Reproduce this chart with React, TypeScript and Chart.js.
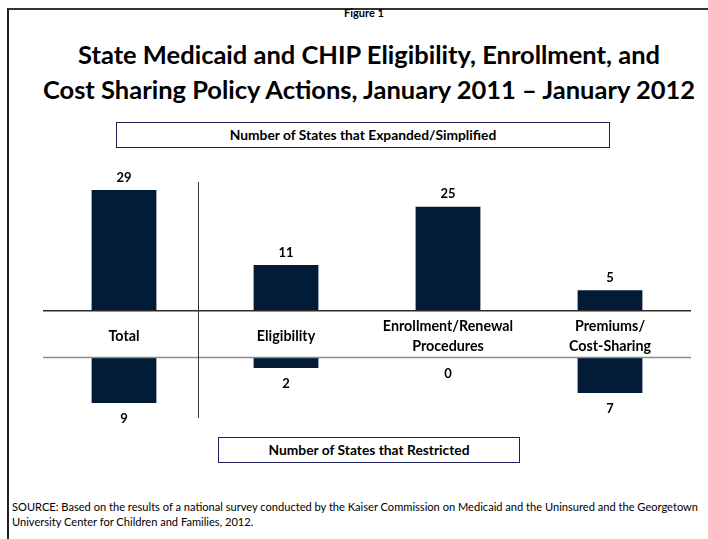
import React, { useEffect, useRef } from "react";
import { Chart, registerables } from "chart.js";

Chart.register(...registerables);

// ---- Data ----
const categories: string[][] = [
  ["Total"],
  ["Eligibility"],
  ["Enrollment/Renewal", "Procedures"],
  ["Premiums/", "Cost-Sharing"],
];
const expandedValues = [29, 11, 25, 5];
const restrictedValues = [9, 2, 0, 7];
const expandedAxisMax = 35;
const restrictedAxisMax = 14;

const titleLines = [
  "State Medicaid and CHIP Eligibility, Enrollment, and",
  "Cost Sharing Policy Actions, January 2011 \u2013 January 2012",
];
const figureLabel = "Figure 1";
const expandedBoxText = "Number of States that Expanded/Simplified";
const restrictedBoxText = "Number of States that Restricted";
const sourceLines = [
  "SOURCE: Based on the results of a national survey conducted by the Kaiser Commission on Medicaid and the Uninsured and the Georgetown",
  "University Center for Children and Families, 2012.",
];

const BAR_COLOR = "#021c37";
const FONT = "Lato, 'Open Sans', 'DejaVu Sans', sans-serif";

function dividerX(chart: any) {
  const x = chart.scales.x;
  const a = x.getPixelForValue(0);
  const b = x.getPixelForValue(1);
  return Math.round(a + 0.455 * (b - a)) + 0.5;
}

const topPlugin = {
  id: "topDecor",
  afterDatasetsDraw(chart: any) {
    const { ctx, chartArea, scales } = chart;
    const x = scales.x;
    const y = scales.y;
    const meta = chart.getDatasetMeta(0);
    const y0 = y.getPixelForValue(0);
    ctx.save();
    // baseline
    ctx.strokeStyle = "#2b2b2b";
    ctx.lineWidth = 1.5;
    ctx.beginPath();
    ctx.moveTo(chartArea.left, y0 - 0.25);
    ctx.lineTo(chartArea.right, y0 - 0.25);
    ctx.stroke();
    // divider
    const xd = dividerX(chart);
    ctx.lineWidth = 1;
    ctx.strokeStyle = "#333";
    ctx.beginPath();
    ctx.moveTo(xd, chartArea.top + 17);
    ctx.lineTo(xd, chart.height);
    ctx.stroke();
    // value labels
    ctx.fillStyle = "#000";
    ctx.textAlign = "center";
    ctx.textBaseline = "middle";
    ctx.font = `bold 13px ${FONT}`;
    meta.data.forEach((el: any, i: number) => {
      ctx.fillText(String(expandedValues[i]), el.x, el.y - 12.5);
    });
    // category labels
    ctx.font = `bold 14.3px ${FONT}`;
    categories.forEach((lines, i) => {
      const cx = x.getPixelForValue(i);
      const cy = y0 + 25.5;
      lines.forEach((t, j) => {
        ctx.fillText(t, cx, cy + (j - (lines.length - 1) / 2) * 19.5);
      });
    });
    ctx.restore();
  },
};

const bottomPlugin = {
  id: "bottomDecor",
  afterDatasetsDraw(chart: any) {
    const { ctx, chartArea, scales } = chart;
    const y = scales.y;
    const meta = chart.getDatasetMeta(0);
    const y0 = y.getPixelForValue(0);
    ctx.save();
    ctx.strokeStyle = "#8c8c8c";
    ctx.lineWidth = 1.5;
    ctx.beginPath();
    ctx.moveTo(chartArea.left, y0 - 0.5);
    ctx.lineTo(chartArea.right, y0 - 0.5);
    ctx.stroke();
    const xd = dividerX(chart);
    ctx.lineWidth = 1;
    ctx.strokeStyle = "#333";
    ctx.beginPath();
    ctx.moveTo(xd, 0);
    ctx.lineTo(xd, y.getPixelForValue(12));
    ctx.stroke();
    ctx.fillStyle = "#000";
    ctx.textAlign = "center";
    ctx.textBaseline = "middle";
    ctx.font = `bold 13px ${FONT}`;
    meta.data.forEach((el: any, i: number) => {
      ctx.fillText(String(restrictedValues[i]), el.x, el.y + 15.5);
    });
    ctx.restore();
  },
};

function makeChart(
  canvas: HTMLCanvasElement,
  values: number[],
  max: number,
  reverse: boolean,
  padding: any,
  plugin: any
) {
  return new Chart(canvas, {
    type: "bar",
    data: {
      labels: categories.map((c) => c.join(" ")),
      datasets: [
        {
          data: values,
          backgroundColor: BAR_COLOR,
          borderWidth: 0,
          barPercentage: 0.4,
          categoryPercentage: 1,
        },
      ],
    },
    options: {
      responsive: false,
      animation: false,
      layout: { padding },
      plugins: {
        legend: { display: false },
        tooltip: { enabled: false },
        title: { display: false },
      },
      scales: {
        x: { display: false },
        y: { display: false, min: 0, max, reverse },
      },
    },
    plugins: [plugin],
  } as any);
}

export default function App() {
  const topRef = useRef<HTMLCanvasElement>(null);
  const bottomRef = useRef<HTMLCanvasElement>(null);

  useEffect(() => {
    const top = makeChart(
      topRef.current!,
      expandedValues,
      expandedAxisMax,
      false,
      { top: 0, bottom: 47, left: 0, right: 0 },
      topPlugin
    );
    const bottom = makeChart(
      bottomRef.current!,
      restrictedValues,
      restrictedAxisMax,
      true,
      { top: 4, bottom: 5, left: 0, right: 0 },
      bottomPlugin
    );
    return () => {
      top.destroy();
      bottom.destroy();
    };
  }, []);

  const abs = (s: React.CSSProperties): React.CSSProperties => ({
    position: "absolute",
    ...s,
  });

  return (
    <div
      style={{
        position: "absolute",
        left: 0,
        top: 0,
        width: 708,
        height: 539,
        overflow: "hidden",
        background: "#fff",
        fontFamily: FONT,
        color: "#000",
      }}
    >
      <div
        style={abs({
          left: 7,
          top: 8,
          width: 701,
          height: 531,
          borderTop: "2px solid #333",
          borderLeft: "2px solid #222",
          boxSizing: "border-box",
        })}
      />
      <div
        style={abs({
          left: 0,
          width: 728,
          top: 6,
          lineHeight: "14px",
          fontSize: 11,
          fontWeight: 700,
          textAlign: "center",
        })}
      >
        {figureLabel}
      </div>
      <div
        style={abs({
          left: 0,
          width: 738,
          top: 37,
          lineHeight: "35px",
          fontSize: 25.5,
          fontWeight: 700,
          textAlign: "center",
          whiteSpace: "nowrap",
        })}
      >
        {titleLines.map((t, i) => (
          <div key={i}>{t}</div>
        ))}
      </div>
      <div
        style={abs({
          left: 116,
          top: 122,
          width: 494,
          height: 26,
          border: "1px solid #1c2258",
          boxSizing: "border-box",
          fontSize: 13.8,
          fontWeight: 700,
          lineHeight: "24px",
          textAlign: "center",
        })}
      >
        {expandedBoxText}
      </div>
      <canvas
        ref={topRef}
        width={648}
        height={193}
        style={abs({ left: 43, top: 165, width: 648, height: 193 })}
      />
      <canvas
        ref={bottomRef}
        width={648}
        height={79}
        style={abs({ left: 43, top: 354, width: 648, height: 79 })}
      />
      <div
        style={abs({
          left: 218,
          top: 437,
          width: 302,
          height: 26,
          border: "1px solid #1c2258",
          boxSizing: "border-box",
          fontSize: 13.8,
          fontWeight: 700,
          lineHeight: "24px",
          textAlign: "center",
        })}
      >
        {restrictedBoxText}
      </div>
      <div
        style={abs({
          left: 12,
          top: 499,
          fontSize: 11.1,
          lineHeight: "15px",
          whiteSpace: "nowrap",
        })}
      >
        {sourceLines.map((t, i) => (
          <div key={i}>{t}</div>
        ))}
      </div>
    </div>
  );
}
